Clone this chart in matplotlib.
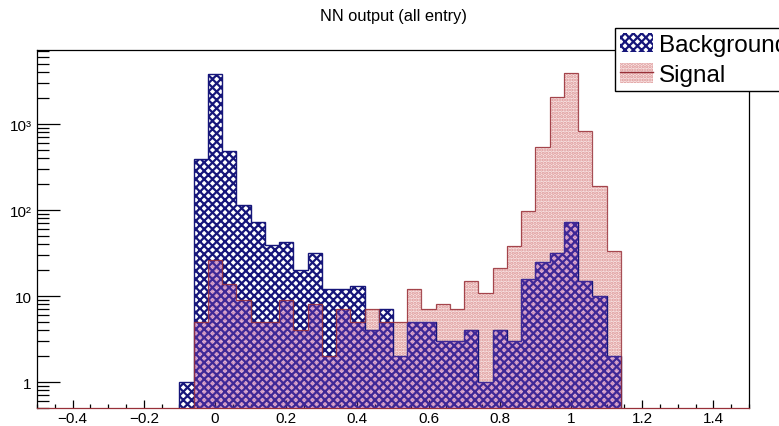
import numpy as np
import matplotlib
matplotlib.use('Agg')
import matplotlib.pyplot as plt
from matplotlib.patches import Patch
from matplotlib.lines import Line2D
from matplotlib.ticker import LogLocator, FixedLocator, MultipleLocator, NullFormatter

plt.rcParams['font.family'] = ['Liberation Sans', 'DejaVu Sans']
plt.rcParams['hatch.linewidth'] = 1.6

# NN output histograms, 0.04 wide bins from -0.1 to 1.14
bin_lo = -0.1
bin_width = 0.04
background = [1, 390, 3800, 490, 115, 72, 39, 42, 20, 32,
              12, 12, 13, 4, 7, 2, 5, 5, 3, 3,
              4, 1, 4, 3, 16, 25, 32, 73, 15, 10, 2]
signal = [0, 5, 26, 14, 9, 5, 5, 9, 4, 8,
          2, 7, 5, 7, 5, 5, 12, 7, 8, 7,
          15, 11, 21, 38, 98, 535, 2040, 3920, 835, 192, 33]

y_ticks = [1, 10, 100, 1000]
y_labels = ['1', '10', '10\u00b2', '10\u00b3']
x_ticks = [-0.4, -0.2, 0, 0.2, 0.4, 0.6, 0.8, 1, 1.2, 1.4]
x_labels = ['\u22120.4', '\u22120.2', '0', '0.2', '0.4', '0.6', '0.8', '1', '1.2', '1.4']

bg = np.array(background, dtype=float)
sig = np.array(signal, dtype=float)
edges = bin_lo + bin_width * np.arange(len(bg) + 1)

navy = '#16167a'
sig_edge = '#983038'

fig = plt.figure(figsize=(7.79, 4.27), dpi=100)
ax = fig.add_axes([37 / 779, 1 - 409 / 427, 712 / 779, 358 / 427])
ax.set_yscale('log')

# signal: light pink dotted fill
ax.stairs(sig, edges, baseline=0.1, fill=True, facecolor='#f9e4e4',
          edgecolor='none', linewidth=0, zorder=1)
ax.stairs(sig, edges, baseline=0.1, fill=True, facecolor='none',
          edgecolor='#dc9696', hatch='.....', linewidth=0, zorder=1.1)

# background: navy cross hatch
ax.stairs(bg, edges, baseline=0.1, fill=True, facecolor='none',
          edgecolor=navy, hatch='xxxx', linewidth=0, zorder=2)
ax.stairs(bg, edges, baseline=0.1, fill=False, edgecolor=navy,
          linewidth=1.0, zorder=2.5)

# purple tint where both histograms overlap
both = np.minimum(bg, sig)
ax.stairs(both, edges, baseline=0.1, fill=True, facecolor=(0.62, 0.32, 0.85, 0.3),
          edgecolor='none', linewidth=0, zorder=3)

# signal outline on top
ax.stairs(sig, edges, baseline=0.1, fill=False, edgecolor=sig_edge,
          linewidth=0.9, alpha=0.85, zorder=4)

ax.set_xlim(-0.5, 1.5)
ax.set_ylim(0.5, 7250)

ax.yaxis.set_major_locator(FixedLocator(y_ticks))
ax.set_yticklabels(y_labels)
ax.yaxis.set_minor_locator(LogLocator(base=10, subs=np.arange(2, 10)))
ax.yaxis.set_minor_formatter(NullFormatter())
ax.set_xticks(x_ticks)
ax.set_xticklabels(x_labels)
ax.xaxis.set_minor_locator(MultipleLocator(0.05))

ax.tick_params(axis='y', which='major', direction='in', length=16.5, width=0.9,
               labelsize=11, pad=4, right=False)
ax.tick_params(axis='y', which='minor', direction='in', length=8.5, width=0.9, right=False)
ax.tick_params(axis='x', which='major', direction='in', length=5.5, width=0.9,
               labelsize=11, pad=2.5, top=False)
ax.tick_params(axis='x', which='minor', direction='in', length=3, width=0.9, top=False)

for sp in ax.spines.values():
    sp.set_linewidth(0.9)
ax.spines['bottom'].set_color(sig_edge)

fig.text(0.505, 1 - 17 / 427, 'NN output (all entry)', ha='center', va='center',
         fontsize=11.8)

# legend in the top right corner, running past the figure edge
h_bg = Patch(facecolor='white', edgecolor=navy, hatch='xxxx', linewidth=0)
h_sig = (Patch(facecolor='#f9e4e4', edgecolor='#dc9696', hatch='.....', linewidth=0),
         Line2D([], [], color=sig_edge, linewidth=1.0))
leg = fig.legend([h_bg, h_sig], ['Background', 'Signal'], loc='upper left',
                 bbox_to_anchor=(615 / 779, 1 - 29 / 427), fontsize=17.5,
                 frameon=True, fancybox=False, shadow=False, framealpha=1,
                 edgecolor='black', borderpad=0.2, handlelength=1.35,
                 handleheight=0.85, handletextpad=0.25, labelspacing=0.3,
                 borderaxespad=0)
leg.get_frame().set_linewidth(1.0)

fig.savefig('out.png', dpi=100)
